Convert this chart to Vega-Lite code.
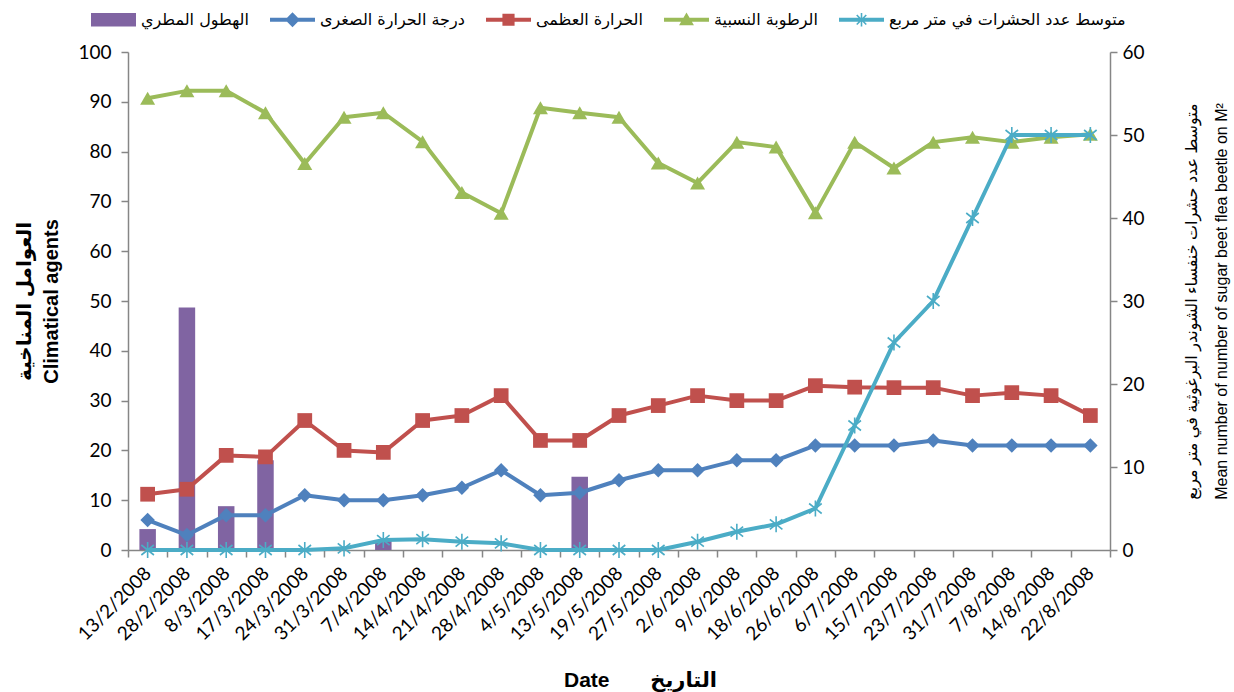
{
  "$schema": "https://vega.github.io/schema/vega-lite/v6.json",
  "width": 982,
  "height": 498,
  "autosize": {"type": "none"},
  "padding": {"left": 128, "top": 52, "right": 124, "bottom": 142},
  "background": "white",
  "config": {"view": {"stroke": null}},
  "datasets": {
    "main": [
      {"date": "13/2/2008", "series": "الهطول المطري", "value": 4.2},
      {"date": "28/2/2008", "series": "الهطول المطري", "value": 48.7},
      {"date": "8/3/2008", "series": "الهطول المطري", "value": 8.8},
      {"date": "17/3/2008", "series": "الهطول المطري", "value": 18},
      {"date": "7/4/2008", "series": "الهطول المطري", "value": 2},
      {"date": "13/5/2008", "series": "الهطول المطري", "value": 14.7},

      {"date": "13/2/2008", "series": "درجة الحرارة الصغرى", "value": 6},
      {"date": "28/2/2008", "series": "درجة الحرارة الصغرى", "value": 3},
      {"date": "8/3/2008", "series": "درجة الحرارة الصغرى", "value": 7},
      {"date": "17/3/2008", "series": "درجة الحرارة الصغرى", "value": 7},
      {"date": "24/3/2008", "series": "درجة الحرارة الصغرى", "value": 11},
      {"date": "31/3/2008", "series": "درجة الحرارة الصغرى", "value": 10},
      {"date": "7/4/2008", "series": "درجة الحرارة الصغرى", "value": 10},
      {"date": "14/4/2008", "series": "درجة الحرارة الصغرى", "value": 11},
      {"date": "21/4/2008", "series": "درجة الحرارة الصغرى", "value": 12.5},
      {"date": "28/4/2008", "series": "درجة الحرارة الصغرى", "value": 16},
      {"date": "4/5/2008", "series": "درجة الحرارة الصغرى", "value": 11},
      {"date": "13/5/2008", "series": "درجة الحرارة الصغرى", "value": 11.5},
      {"date": "19/5/2008", "series": "درجة الحرارة الصغرى", "value": 14},
      {"date": "27/5/2008", "series": "درجة الحرارة الصغرى", "value": 16},
      {"date": "2/6/2008", "series": "درجة الحرارة الصغرى", "value": 16},
      {"date": "9/6/2008", "series": "درجة الحرارة الصغرى", "value": 18},
      {"date": "18/6/2008", "series": "درجة الحرارة الصغرى", "value": 18},
      {"date": "26/6/2008", "series": "درجة الحرارة الصغرى", "value": 21},
      {"date": "6/7/2008", "series": "درجة الحرارة الصغرى", "value": 21},
      {"date": "15/7/2008", "series": "درجة الحرارة الصغرى", "value": 21},
      {"date": "23/7/2008", "series": "درجة الحرارة الصغرى", "value": 22},
      {"date": "31/7/2008", "series": "درجة الحرارة الصغرى", "value": 21},
      {"date": "7/8/2008", "series": "درجة الحرارة الصغرى", "value": 21},
      {"date": "14/8/2008", "series": "درجة الحرارة الصغرى", "value": 21},
      {"date": "22/8/2008", "series": "درجة الحرارة الصغرى", "value": 21},

      {"date": "13/2/2008", "series": "الحرارة العظمى", "value": 11.2},
      {"date": "28/2/2008", "series": "الحرارة العظمى", "value": 12.2},
      {"date": "8/3/2008", "series": "الحرارة العظمى", "value": 19},
      {"date": "17/3/2008", "series": "الحرارة العظمى", "value": 18.7},
      {"date": "24/3/2008", "series": "الحرارة العظمى", "value": 26},
      {"date": "31/3/2008", "series": "الحرارة العظمى", "value": 20},
      {"date": "7/4/2008", "series": "الحرارة العظمى", "value": 19.6},
      {"date": "14/4/2008", "series": "الحرارة العظمى", "value": 26},
      {"date": "21/4/2008", "series": "الحرارة العظمى", "value": 27},
      {"date": "28/4/2008", "series": "الحرارة العظمى", "value": 31},
      {"date": "4/5/2008", "series": "الحرارة العظمى", "value": 22},
      {"date": "13/5/2008", "series": "الحرارة العظمى", "value": 22},
      {"date": "19/5/2008", "series": "الحرارة العظمى", "value": 27},
      {"date": "27/5/2008", "series": "الحرارة العظمى", "value": 29},
      {"date": "2/6/2008", "series": "الحرارة العظمى", "value": 31},
      {"date": "9/6/2008", "series": "الحرارة العظمى", "value": 30},
      {"date": "18/6/2008", "series": "الحرارة العظمى", "value": 30},
      {"date": "26/6/2008", "series": "الحرارة العظمى", "value": 33},
      {"date": "6/7/2008", "series": "الحرارة العظمى", "value": 32.7},
      {"date": "15/7/2008", "series": "الحرارة العظمى", "value": 32.6},
      {"date": "23/7/2008", "series": "الحرارة العظمى", "value": 32.6},
      {"date": "31/7/2008", "series": "الحرارة العظمى", "value": 31},
      {"date": "7/8/2008", "series": "الحرارة العظمى", "value": 31.6},
      {"date": "14/8/2008", "series": "الحرارة العظمى", "value": 31},
      {"date": "22/8/2008", "series": "الحرارة العظمى", "value": 27},

      {"date": "13/2/2008", "series": "الرطوبة النسبية", "value": 90.7},
      {"date": "28/2/2008", "series": "الرطوبة النسبية", "value": 92.2},
      {"date": "8/3/2008", "series": "الرطوبة النسبية", "value": 92.2},
      {"date": "17/3/2008", "series": "الرطوبة النسبية", "value": 87.8},
      {"date": "24/3/2008", "series": "الرطوبة النسبية", "value": 77.6},
      {"date": "31/3/2008", "series": "الرطوبة النسبية", "value": 86.9},
      {"date": "7/4/2008", "series": "الرطوبة النسبية", "value": 87.8},
      {"date": "14/4/2008", "series": "الرطوبة النسبية", "value": 82},
      {"date": "21/4/2008", "series": "الرطوبة النسبية", "value": 71.8},
      {"date": "28/4/2008", "series": "الرطوبة النسبية", "value": 67.6},
      {"date": "4/5/2008", "series": "الرطوبة النسبية", "value": 88.8},
      {"date": "13/5/2008", "series": "الرطوبة النسبية", "value": 87.8},
      {"date": "19/5/2008", "series": "الرطوبة النسبية", "value": 86.9},
      {"date": "27/5/2008", "series": "الرطوبة النسبية", "value": 77.7},
      {"date": "2/6/2008", "series": "الرطوبة النسبية", "value": 73.7},
      {"date": "9/6/2008", "series": "الرطوبة النسبية", "value": 81.9},
      {"date": "18/6/2008", "series": "الرطوبة النسبية", "value": 80.9},
      {"date": "26/6/2008", "series": "الرطوبة النسبية", "value": 67.7},
      {"date": "6/7/2008", "series": "الرطوبة النسبية", "value": 81.9},
      {"date": "15/7/2008", "series": "الرطوبة النسبية", "value": 76.7},
      {"date": "23/7/2008", "series": "الرطوبة النسبية", "value": 81.9},
      {"date": "31/7/2008", "series": "الرطوبة النسبية", "value": 82.9},
      {"date": "7/8/2008", "series": "الرطوبة النسبية", "value": 81.9},
      {"date": "14/8/2008", "series": "الرطوبة النسبية", "value": 82.9},
      {"date": "22/8/2008", "series": "الرطوبة النسبية", "value": 83.5},

      {"date": "13/2/2008", "series": "متوسط عدد الحشرات في متر مربع", "value": 0},
      {"date": "28/2/2008", "series": "متوسط عدد الحشرات في متر مربع", "value": 0},
      {"date": "8/3/2008", "series": "متوسط عدد الحشرات في متر مربع", "value": 0},
      {"date": "17/3/2008", "series": "متوسط عدد الحشرات في متر مربع", "value": 0},
      {"date": "24/3/2008", "series": "متوسط عدد الحشرات في متر مربع", "value": 0},
      {"date": "31/3/2008", "series": "متوسط عدد الحشرات في متر مربع", "value": 0.2},
      {"date": "7/4/2008", "series": "متوسط عدد الحشرات في متر مربع", "value": 1.2},
      {"date": "14/4/2008", "series": "متوسط عدد الحشرات في متر مربع", "value": 1.3},
      {"date": "21/4/2008", "series": "متوسط عدد الحشرات في متر مربع", "value": 1.0},
      {"date": "28/4/2008", "series": "متوسط عدد الحشرات في متر مربع", "value": 0.8},
      {"date": "4/5/2008", "series": "متوسط عدد الحشرات في متر مربع", "value": 0},
      {"date": "13/5/2008", "series": "متوسط عدد الحشرات في متر مربع", "value": 0},
      {"date": "19/5/2008", "series": "متوسط عدد الحشرات في متر مربع", "value": 0},
      {"date": "27/5/2008", "series": "متوسط عدد الحشرات في متر مربع", "value": 0},
      {"date": "2/6/2008", "series": "متوسط عدد الحشرات في متر مربع", "value": 1.0},
      {"date": "9/6/2008", "series": "متوسط عدد الحشرات في متر مربع", "value": 2.2},
      {"date": "18/6/2008", "series": "متوسط عدد الحشرات في متر مربع", "value": 3.1},
      {"date": "26/6/2008", "series": "متوسط عدد الحشرات في متر مربع", "value": 5},
      {"date": "6/7/2008", "series": "متوسط عدد الحشرات في متر مربع", "value": 15},
      {"date": "15/7/2008", "series": "متوسط عدد الحشرات في متر مربع", "value": 25},
      {"date": "23/7/2008", "series": "متوسط عدد الحشرات في متر مربع", "value": 30},
      {"date": "31/7/2008", "series": "متوسط عدد الحشرات في متر مربع", "value": 40},
      {"date": "7/8/2008", "series": "متوسط عدد الحشرات في متر مربع", "value": 50},
      {"date": "14/8/2008", "series": "متوسط عدد الحشرات في متر مربع", "value": 50},
      {"date": "22/8/2008", "series": "متوسط عدد الحشرات في متر مربع", "value": 50}
    ]
  },
  "data": {"name": "main"},
  "encoding": {
    "x": {
      "field": "date",
      "type": "ordinal",
      "scale": {
        "type": "band",
        "paddingInner": 0,
        "paddingOuter": 0,
        "domain": ["13/2/2008","28/2/2008","8/3/2008","17/3/2008","24/3/2008","31/3/2008","7/4/2008","14/4/2008","21/4/2008","28/4/2008","4/5/2008","13/5/2008","19/5/2008","27/5/2008","2/6/2008","9/6/2008","18/6/2008","26/6/2008","6/7/2008","15/7/2008","23/7/2008","31/7/2008","7/8/2008","14/8/2008","22/8/2008"]
      },
      "axis": {
        "title": "Date\u00a0\u00a0\u00a0\u00a0\u00a0\u00a0\u00a0التاريخ",
        "titleFont": "Liberation Sans, DejaVu Sans",
        "titleFontSize": 21,
        "titleFontWeight": "bold",
        "titleColor": "#000",
        "titlePadding": 26,
        "titleX": 512,
        "labelFont": "Lato",
        "labelFontSize": 19,
        "labelColor": "#000",
        "labelAngle": -45,
        "labelAlign": "right",
        "labelBaseline": "middle",
        "labelPadding": 13,
        "labelOverlap": false,
        "tickBand": "extent",
        "tickSize": 7,
        "tickColor": "#868686",
        "tickWidth": 1.5,
        "domainColor": "#868686",
        "domainWidth": 1.5,
        "grid": false
      }
    }
  },
  "layer": [
    {
      "encoding": {
        "y": {
          "field": "value",
          "type": "quantitative",
          "scale": {"domain": [0, 100], "nice": false, "zero": true},
          "axis": {
            "title": ["العوامل المناخية", "Climatical agents"],
            "titleFont": "Liberation Sans, DejaVu Sans",
            "titleFontSize": 20,
            "titleFontWeight": "bold",
            "titleColor": "#000",
            "titlePadding": 16,
            "titleLineHeight": 27,
            "values": [0,10,20,30,40,50,60,70,80,90,100],
            "labelFont": "Lato",
            "labelFontSize": 19,
            "labelColor": "#000",
            "labelPadding": 10,
            "tickSize": 7,
            "tickColor": "#868686",
            "tickWidth": 1.5,
            "domainColor": "#868686",
            "domainWidth": 1.5,
            "grid": false
          }
        }
      },
      "layer": [
        {
          "transform": [{"filter": "datum.series === 'الهطول المطري'"}],
          "mark": {"type": "bar", "width": {"band": 0.42}},
          "encoding": {
            "color": {
              "field": "series",
              "type": "nominal",
              "scale": {
                "domain": ["الهطول المطري","درجة الحرارة الصغرى","الحرارة العظمى","الرطوبة النسبية","متوسط عدد الحشرات في متر مربع"],
                "range": ["#8064A2","#4F81BD","#C0504D","#9BBB59","#4BACC6"]
              },
              "legend": {
                "orient": "none",
                "legendX": -37,
                "legendY": -55,
                "direction": "horizontal",
                "title": null,
                "symbolSize": 2025,
                "labelFont": "DejaVu Sans",
                "labelFontSize": 16,
                "labelColor": "#000",
                "labelOffset": 5,
                "labelLimit": 400,
                "columnPadding": 21,
                "encode": {
                  "symbols": {
                    "update": {
                      "shape": {"signal": "datum.value === 'الهطول المطري' ? 'M-1,-0.3L1,-0.3L1,0.3L-1,0.3Z' : datum.value === 'درجة الحرارة الصغرى' ? 'M-1,-0.09L1,-0.09L1,0.09L-1,0.09Z M0,-0.33L0.33,0L0,0.33L-0.33,0Z' : datum.value === 'الحرارة العظمى' ? 'M-1,-0.09L1,-0.09L1,0.09L-1,0.09Z M-0.27,-0.27L0.27,-0.27L0.27,0.27L-0.27,0.27Z' : datum.value === 'الرطوبة النسبية' ? 'M-1,-0.09L1,-0.09L1,0.09L-1,0.09Z M0,-0.32L0.33,0.24L-0.33,0.24Z' : 'M-1,-0.09L1,-0.09L1,0.09L-1,0.09Z M-0.035,-0.3L0.035,-0.3L0.035,0.3L-0.035,0.3Z M-0.237,-0.187L-0.187,-0.237L0.237,0.187L0.187,0.237Z M-0.187,0.237L-0.237,0.187L0.187,-0.237L0.237,-0.187Z'"},
                      "fill": {"scale": "color", "field": "value"},
                      "fillOpacity": {"value": 1},
                      "strokeWidth": {"value": 0},
                      "opacity": {"value": 1}
                    }
                  }
                }
              }
            }
          }
        },
        {
          "transform": [{"filter": "datum.series !== 'الهطول المطري' && datum.series !== 'متوسط عدد الحشرات في متر مربع'"}],
          "mark": {"type": "line", "strokeWidth": 4, "strokeJoin": "round", "strokeCap": "round"},
          "encoding": {
            "color": {"field": "series", "type": "nominal", "legend": null}
          }
        },
        {
          "transform": [{"filter": "datum.series !== 'الهطول المطري' && datum.series !== 'متوسط عدد الحشرات في متر مربع'"}],
          "mark": {"type": "point", "filled": true, "opacity": 1},
          "encoding": {
            "color": {"field": "series", "type": "nominal", "legend": null},
            "shape": {
              "field": "series",
              "type": "nominal",
              "scale": {
                "domain": ["درجة الحرارة الصغرى","الحرارة العظمى","الرطوبة النسبية"],
                "range": ["diamond","square","triangle-up"]
              },
              "legend": null
            },
            "size": {
              "field": "series",
              "type": "nominal",
              "scale": {
                "domain": ["درجة الحرارة الصغرى","الحرارة العظمى","الرطوبة النسبية"],
                "range": [210, 225, 300]
              },
              "legend": null
            }
          }
        }
      ]
    },
    {
      "transform": [{"filter": "datum.series === 'متوسط عدد الحشرات في متر مربع'"}],
      "encoding": {
        "y": {
          "field": "value",
          "type": "quantitative",
          "scale": {"domain": [0, 60], "nice": false, "zero": true},
          "axis": {
            "orient": "right",
            "title": ["متوسط عدد حشرات خنفساء الشوندر البرغوثية في متر مربع", "Mean number of number of sugar  beet flea beetle on M²"],
            "titleFont": "Liberation Sans, DejaVu Sans",
            "titleFontSize": 16,
            "titleFontWeight": "normal",
            "titleColor": "#000",
            "titleAngle": -90,
            "titleBaseline": "top",
            "titlePadding": 9,
            "titleLineHeight": 30,
            "values": [0,10,20,30,40,50,60],
            "labelFont": "Lato",
            "labelFontSize": 19,
            "labelColor": "#000",
            "labelPadding": 5,
            "tickSize": 7,
            "tickColor": "#868686",
            "tickWidth": 1.5,
            "domainColor": "#868686",
            "domainWidth": 1.5,
            "grid": false
          }
        },
        "color": {"field": "series", "type": "nominal", "legend": null}
      },
      "layer": [
        {
          "mark": {"type": "line", "strokeWidth": 4, "strokeJoin": "round", "strokeCap": "round"},
          "encoding": {}
        },
        {
          "mark": {"type": "point", "filled": false, "opacity": 1, "strokeWidth": 1.6, "size": 260, "shape": "M0,-1L0,1M-0.78,-0.62L0.78,0.62M-0.78,0.62L0.78,-0.62"},
          "encoding": {}
        }
      ]
    }
  ],
  "resolve": {"scale": {"y": "independent"}}
}
